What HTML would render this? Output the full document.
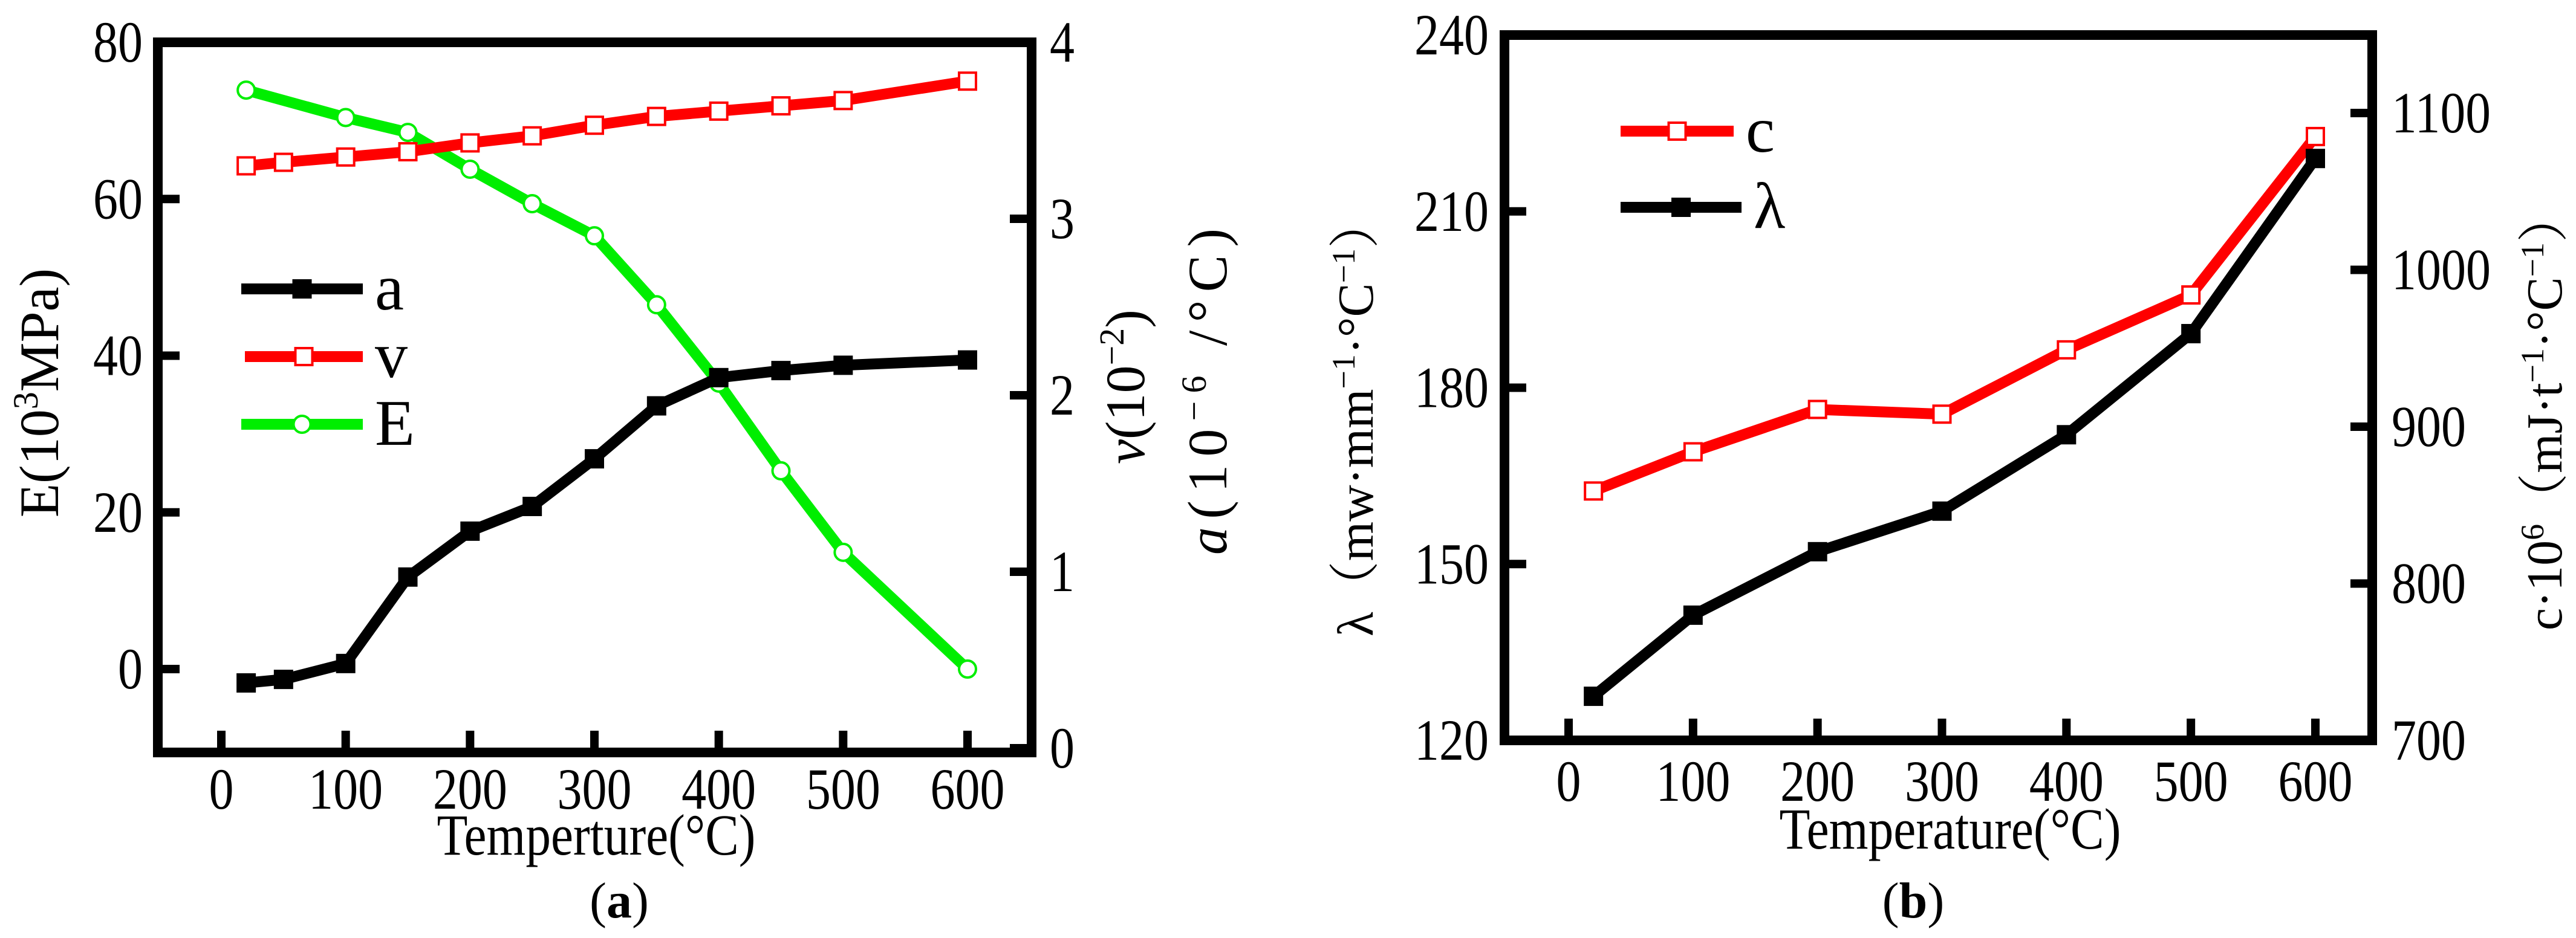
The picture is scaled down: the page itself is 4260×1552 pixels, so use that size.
<!DOCTYPE html>
<html><head><meta charset="utf-8"><style>
html,body{margin:0;padding:0;background:#fff;}
svg{display:block;font-family:"Liberation Serif",serif;}
</style></head><body>
<svg id="chart" width="4260" height="1552" viewBox="0 0 4260 1552" xmlns="http://www.w3.org/2000/svg">
<rect width="4260" height="1552" fill="#fff"/>
<g id="pa"></g>
<g id="pb"></g>
<text x="986" y="1414" font-size="96" text-anchor="middle" textLength="527" lengthAdjust="spacingAndGlyphs">Temperture(°C)</text>
<text x="3225" y="1404" font-size="96" text-anchor="middle" textLength="565" lengthAdjust="spacingAndGlyphs">Temperature(°C)</text>
<text x="1024" y="1518" font-size="84" text-anchor="middle">(<tspan font-weight="bold">a</tspan>)</text>
<text x="3164" y="1518" font-size="84" text-anchor="middle">(<tspan font-weight="bold">b</tspan>)</text>
<text transform="translate(96,650) rotate(-90)" font-size="92" text-anchor="middle">E(10<tspan font-size="58" dy="-34">3</tspan><tspan dy="34">MPa)</tspan></text>
<text transform="translate(1892,640) rotate(-90)" font-size="92" text-anchor="middle"><tspan font-style="italic">v</tspan>(10<tspan font-size="58" dy="-34">−2</tspan><tspan dy="34">)</tspan></text>
<text transform="translate(2028,648) rotate(-90)" font-size="92" text-anchor="middle" textLength="540" lengthAdjust="spacing"><tspan font-style="italic">a</tspan>(10<tspan font-size="58" dy="-34">−6</tspan><tspan dy="34"> /°C)</tspan></text>
<text transform="translate(2270,690) rotate(-90)" font-size="84" text-anchor="middle" font-family="Liberation Serif, Noto Serif CJK SC, serif">λ（mw·mm<tspan font-size="54" dy="-30">−1</tspan><tspan dy="30">·°C</tspan><tspan font-size="54" dy="-30">−1</tspan><tspan dy="30">）</tspan></text>
<text transform="translate(4236,680) rotate(-90)" font-size="84" text-anchor="middle" font-family="Liberation Serif, Noto Serif CJK SC, serif">c·10<tspan font-size="54" dy="-30">6</tspan><tspan dy="30">（mJ·t</tspan><tspan font-size="54" dy="-30">−1</tspan><tspan dy="30">·°C</tspan><tspan font-size="54" dy="-30">−1</tspan><tspan dy="30">）</tspan></text>
</svg>
<script>
// Panel (a) data
const tempA = [20,50,100,150,200,250,300,350,400,450,500,600];
const seriesA_a = [0.37,0.39,0.48,0.97,1.23,1.37,1.64,1.94,2.10,2.14,2.17,2.20];
const seriesA_v = [3.30,3.32,3.35,3.38,3.43,3.47,3.53,3.58,3.61,3.64,3.67,3.78];
const tempE = [20,100,150,200,250,300,350,400,450,500,600];
const seriesA_E = [73.9,70.4,68.5,63.8,59.4,55.3,46.5,36.5,25.3,14.9,0];
const xTicksA = [0,100,200,300,400,500,600];
const yTicksLeftA = [0,20,40,60,80];
const yTicksRightA = [0,1,2,3,4];
// Panel (b) data
const tempB = [20,100,200,300,400,500,600];
const seriesB_lambda = [127.5,141.3,152.1,159.0,172.0,189.2,219.0];
const seriesB_c = [859,884,911,908,949,984,1085];
const xTicksB = [0,100,200,300,400,500,600];
const yTicksLeftB = [120,150,180,210,240];
const yTicksRightB = [700,800,900,1000,1100];

const NS = "http://www.w3.org/2000/svg";
function mk(parent, tag, attrs){const e=document.createElementNS(NS,tag);for(const k in attrs)e.setAttribute(k,attrs[k]);parent.appendChild(e);return e;}
function lin(d0,d1,r0,r1){return v=>r0+(v-d0)*(r1-r0)/(d1-d0);}

function frame(g, box, name){
  const r = mk(g,'rect',{x:box.x0,y:box.y0,width:box.x1-box.x0,height:box.y1-box.y0,fill:'none',stroke:'#000','stroke-width':16});
  
  
}
function tickText(g, x, y, anchor, t){
  const s = String(t);
  const tx = mk(g,'text',{x:x,y:y,'font-size':96,'text-anchor':anchor,textLength:s.length*41,lengthAdjust:'spacingAndGlyphs'});
  tx.textContent = s;
  return tx;
}
function xAxis(g, ticks, sx, box, labelY){
  ticks.forEach(t=>{
    const l = mk(g,'line',{x1:sx(t),x2:sx(t),y1:box.y1,y2:box.y1-36,stroke:'#000','stroke-width':14});
    
    
    const tx = tickText(g, sx(t), labelY, 'middle', t);
    
    
  });
}
function yAxis(g, ticks, sy, xEdge, dir, labelX, anchor, name){
  ticks.forEach(t=>{
    const l = mk(g,'line',{x1:xEdge,x2:xEdge+dir*36,y1:sy(t),y2:sy(t),stroke:'#000','stroke-width':14});
    
    
    const tx = tickText(g, labelX, sy(t)+32, anchor, t);
    
    
  });
}
function series(g, xs, ys, sx, sy, color, marker, fill, name){
  const pts = xs.map((x,i)=>sx(x)+','+sy(ys[i])).join(' ');
  const pl = mk(g,'polyline',{points:pts,fill:'none',stroke:color,'stroke-width':18,'stroke-linejoin':'round'});
  
  
  xs.forEach((x,i)=>{
    const cx=sx(x), cy=sy(ys[i]);
    let m;
    if(marker==='circle') m = mk(g,'circle',{cx:cx,cy:cy,r:14,fill:fill,stroke:color,'stroke-width':4});
    else m = mk(g,'rect',{x:cx-14,y:cy-14,width:28,height:28,fill:fill,stroke:color,'stroke-width':4});
    
    
  });
}
function legend(g, x0, x1, y, color, marker, fill, label, name){
  const l = mk(g,'line',{x1:x0,x2:x1,y1:y,y2:y,stroke:color,'stroke-width':18});
  
  
  const cx=(x0+x1)/2;
  let m;
  if(marker==='circle') m = mk(g,'circle',{cx:cx,cy:y,r:14,fill:fill,stroke:color,'stroke-width':4});
  else m = mk(g,'rect',{x:cx-14,y:y-14,width:28,height:28,fill:fill,stroke:color,'stroke-width':4});
  
  
  const t = mk(g,'text',{x:x1+20,y:y+34,'font-size':108});
  
  
  t.textContent = label;
}

// Panel a
(function(){
  const g = document.getElementById('pa');
  const box = {x0:261,x1:1706,y0:70,y1:1245};
  const sx = lin(0,600,366,1600);
  const syL = lin(0,80,1107,70);
  const syR = lin(0,4,1238,70);
  series(g,tempE,seriesA_E,sx,syL,'#00ee00','circle','#fff','series-E');
  series(g,tempA,seriesA_v,sx,syR,'#ff0000','square','#fff','series-v');
  series(g,tempA,seriesA_a,sx,syR,'#000','square','#000','series-a');
  frame(g,box,'plot-frame-a');
  xAxis(g,xTicksA,sx,box,1338);
  yAxis(g,yTicksLeftA,syL,box.x0,1,236,'end','y-left-a');
  yAxis(g,yTicksRightA,syR,box.x1,-1,1736,'start','y-right-a');
  legend(g,399,600,478,'#000','square','#000','a','a');
  legend(g,405,600,590,'#ff0000','square','#fff','v','v');
  legend(g,399,600,702,'#00ee00','circle','#fff','E','E');
})();
// Panel b
(function(){
  const g = document.getElementById('pb');
  const box = {x0:2488,x1:3923,y0:58,y1:1225};
  const sx = lin(0,600,2594,3829);
  const syL = lin(120,240,1225,58);
  const syR = lin(700,1100,1225,187);
  series(g,tempB,seriesB_c,sx,syR,'#ff0000','square','#fff','series-c');
  series(g,tempB,seriesB_lambda,sx,syL,'#000','square','#000','series-lambda');
  frame(g,box,'plot-frame-b');
  xAxis(g,xTicksB,sx,box,1325);
  yAxis(g,yTicksLeftB,syL,box.x0,1,2462,'end','y-left-b');
  yAxis(g,yTicksRightB,syR,box.x1,-1,3955,'start','y-right-b');
  legend(g,2680,2867,217,'#ff0000','square','#fff','c','c');
  legend(g,2680,2880,343,'#000','square','#000','λ','lambda');
})();
</script>
</body></html>
